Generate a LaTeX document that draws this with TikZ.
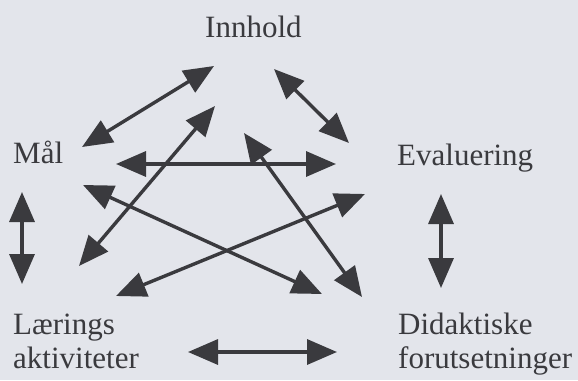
\documentclass[tikz,border=0pt]{standalone}
\usepackage{fontspec}
\setmainfont{Liberation Serif}
\usetikzlibrary{arrows.meta}
\definecolor{paper}{RGB}{227,229,235}
\definecolor{ink}{RGB}{58,58,62}
\tikzset{
  label text/.style={inner sep=0pt, anchor=base west, text=ink,
    font=\fontsize{31}{34}\selectfont, align=left},
  link/.style={draw=ink, line width=3.4pt,
    {Triangle[length=30pt,width=25pt]}-{Triangle[length=30pt,width=25pt]}}
}
\begin{document}
\begin{tikzpicture}[x=1pt,y=-1pt]
  % page and paper tone
  \fill[paper] (0,0) rectangle (578,380);
  \useasboundingbox (0,0) rectangle (578,380);

  % the five elements of the didactic relation model
  % (two-line labels are placed by the baseline of their last line)
  \node[label text] (innhold)    at (205,37)  {Innhold};
  \node[label text] (maal)       at (13,163)  {Mål};
  \node[label text] (evaluering) at (397,165) {Evaluering};
  \node[label text] (laering)    at (13,368)  {Lærings\\aktiviteter};
  \node[label text] (didaktiske) at (398,368) {Didaktiske\\forutsetninger};

  % arrow end points around each element
  \coordinate (inn-a) at (214,66);
  \coordinate (inn-b) at (274,69);
  \coordinate (inn-c) at (215,106);
  \coordinate (inn-d) at (244,133);
  \coordinate (maal-a) at (82,147);
  \coordinate (maal-b) at (116,164);
  \coordinate (maal-c) at (83,185);
  \coordinate (maal-d) at (22,192);
  \coordinate (eva-a) at (349,143);
  \coordinate (eva-b) at (336,164);
  \coordinate (eva-c) at (365,194);
  \coordinate (eva-d) at (441,194);
  \coordinate (lae-a) at (22,284);
  \coordinate (lae-b) at (79,266);
  \coordinate (lae-c) at (116,296);
  \coordinate (lae-d) at (188,352);
  \coordinate (did-a) at (441,288);
  \coordinate (did-b) at (322,294);
  \coordinate (did-c) at (362,297);
  \coordinate (did-d) at (337,352);

  % every element is linked with every other one
  \draw[link] (inn-a) -- (maal-a);
  \draw[link] (inn-b) -- (eva-a);
  \draw[link] (maal-b) -- (eva-b);
  \draw[link] (maal-d) -- (lae-a);
  \draw[link] (eva-d) -- (did-a);
  \draw[link] (lae-d) -- (did-d);
  \draw[link] (inn-c) -- (lae-b);
  \draw[link] (maal-c) -- (did-b);
  \draw[link] (inn-d) -- (did-c);
  \draw[link] (eva-c) -- (lae-c);
\end{tikzpicture}
\end{document}
